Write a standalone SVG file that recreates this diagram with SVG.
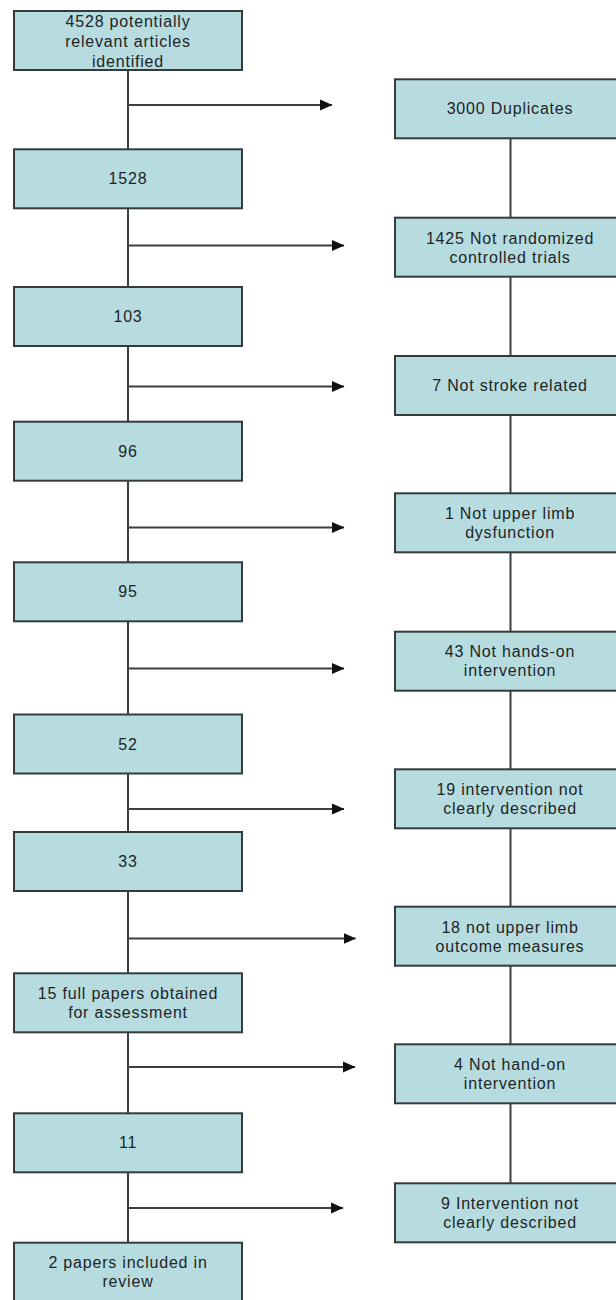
<svg xmlns="http://www.w3.org/2000/svg" width="616" height="1300" viewBox="0 0 616 1300">
<style>
.box{fill:#b6dce0;stroke:#353b3d;stroke-width:2}
.t{font-family:"Liberation Sans",Arial,sans-serif;font-size:16px;fill:#1f2426;text-anchor:middle;letter-spacing:0.8px}
.ln{stroke:#3c3f40;stroke-width:2;fill:none}
</style>
<defs>
<marker id="ah" markerUnits="userSpaceOnUse" markerWidth="13" markerHeight="12" refX="12" refY="6" orient="auto">
<path d="M0,0.5 L12.5,6 L0,11.5 z" fill="#111"/>
</marker>
</defs>
<rect x="0" y="0" width="616" height="1300" fill="#fff"/>
<g id="connectors">
<line class="ln" x1="128" y1="70" x2="128" y2="1243"/>
<line class="ln" x1="510.5" y1="138" x2="510.5" y2="1184"/>
<line class="ln" x1="128" y1="105" x2="332" y2="105" marker-end="url(#ah)"/>
<line class="ln" x1="128" y1="245.5" x2="344" y2="245.5" marker-end="url(#ah)"/>
<line class="ln" x1="128" y1="386.5" x2="344" y2="386.5" marker-end="url(#ah)"/>
<line class="ln" x1="128" y1="527.5" x2="344" y2="527.5" marker-end="url(#ah)"/>
<line class="ln" x1="128" y1="668.5" x2="344" y2="668.5" marker-end="url(#ah)"/>
<line class="ln" x1="128" y1="809" x2="344" y2="809" marker-end="url(#ah)"/>
<line class="ln" x1="128" y1="938.5" x2="355.5" y2="938.5" marker-end="url(#ah)"/>
<line class="ln" x1="128" y1="1067" x2="355" y2="1067" marker-end="url(#ah)"/>
<line class="ln" x1="128" y1="1208" x2="343" y2="1208" marker-end="url(#ah)"/>
</g>
<g id="n1"><rect class="box" x="14" y="11" width="228" height="59"/><text class="t" x="128" y="26.7">4528 potentially</text><text class="t" x="128" y="46.7">relevant articles</text><text class="t" x="128" y="66.5">identified</text></g>
<g id="n2"><rect class="box" x="14" y="149.3" width="228" height="59"/><text class="t" x="128" y="184.3">1528</text></g>
<g id="n3"><rect class="box" x="14" y="287" width="228" height="59"/><text class="t" x="128" y="322">103</text></g>
<g id="n4"><rect class="box" x="14" y="421.7" width="228" height="59"/><text class="t" x="128" y="456.7">96</text></g>
<g id="n5"><rect class="box" x="14" y="562.3" width="228" height="59"/><text class="t" x="128" y="597.3">95</text></g>
<g id="n6"><rect class="box" x="14" y="714.5" width="228" height="59"/><text class="t" x="128" y="749.5">52</text></g>
<g id="n7"><rect class="box" x="14" y="832" width="228" height="59"/><text class="t" x="128" y="867">33</text></g>
<g id="n8"><rect class="box" x="14" y="973.3" width="228" height="59"/><text class="t" x="128" y="998.8">15 full papers obtained</text><text class="t" x="128" y="1017.8">for assessment</text></g>
<g id="n9"><rect class="box" x="14" y="1113.3" width="228" height="59"/><text class="t" x="128" y="1148.3">11</text></g>
<g id="n10"><rect class="box" x="14" y="1242.7" width="228" height="59"/><text class="t" x="128" y="1268.2">2 papers included in</text><text class="t" x="128" y="1287.2">review</text></g>
<g id="r1"><rect class="box" x="395" y="79.3" width="230" height="59"/><text class="t" x="510" y="114.3">3000 Duplicates</text></g>
<g id="r2"><rect class="box" x="395" y="217.7" width="230" height="59"/><text class="t" x="510" y="243.7">1425 Not randomized</text><text class="t" x="510" y="262.7">controlled trials</text></g>
<g id="r3"><rect class="box" x="395" y="356" width="230" height="59"/><text class="t" x="510" y="391">7 Not stroke related</text></g>
<g id="r4"><rect class="box" x="395" y="493.3" width="230" height="59"/><text class="t" x="510" y="519.3">1 Not upper limb</text><text class="t" x="510" y="538.3">dysfunction</text></g>
<g id="r5"><rect class="box" x="395" y="631.7" width="230" height="59"/><text class="t" x="510" y="657">43 Not hands-on</text><text class="t" x="510" y="676">intervention</text></g>
<g id="r6"><rect class="box" x="395" y="769.3" width="230" height="59"/><text class="t" x="510" y="795.3">19 intervention not</text><text class="t" x="510" y="814.3">clearly described</text></g>
<g id="r7"><rect class="box" x="395" y="906.7" width="230" height="59"/><text class="t" x="510" y="932.5">18 not upper limb</text><text class="t" x="510" y="951.5">outcome measures</text></g>
<g id="r8"><rect class="box" x="395" y="1044.3" width="230" height="59"/><text class="t" x="510" y="1070">4 Not hand-on</text><text class="t" x="510" y="1089">intervention</text></g>
<g id="r9"><rect class="box" x="395" y="1183.3" width="230" height="59"/><text class="t" x="510" y="1209.3">9 Intervention not</text><text class="t" x="510" y="1228.3">clearly described</text></g>
</svg>
